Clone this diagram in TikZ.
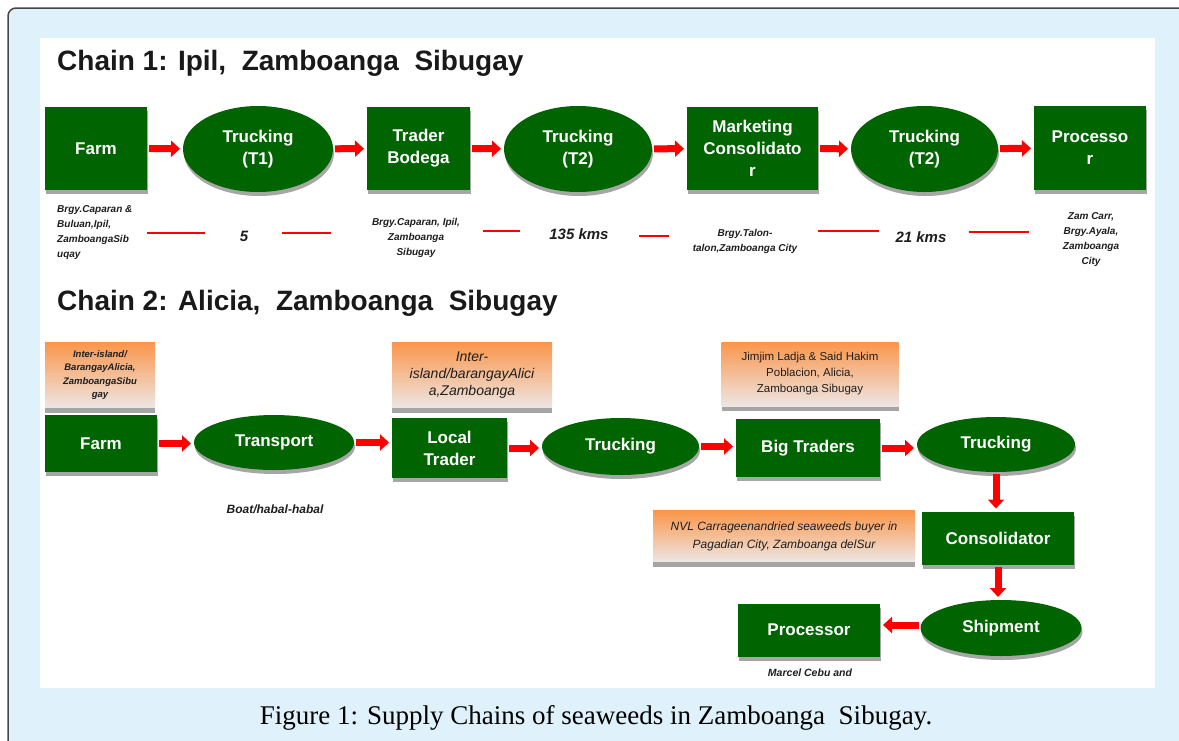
\documentclass[tikz,border=0pt]{standalone}
\usepackage{fontspec}
\setmainfont{Liberation Sans}
\newfontfamily\capfont{Liberation Serif}
\usetikzlibrary{arrows.meta, shapes.geometric, shadows, calc, positioning}

\definecolor{seagreen}{RGB}{0,100,0}
\definecolor{framebg}{RGB}{223,241,251}
\definecolor{frameline}{RGB}{70,70,70}
\definecolor{noteorange}{RGB}{250,150,75}
\definecolor{notelight}{RGB}{237,230,228}
\definecolor{noteshade}{RGB}{165,165,165}
\definecolor{flowred}{RGB}{255,0,0}
\definecolor{notetext}{RGB}{30,30,30}

\begin{document}
\begin{tikzpicture}[x=1pt, y=-1pt]
	\tikzset{%
		stagebox/.style={rectangle, fill=seagreen, text=white, font=\fontsize{17}{22}\selectfont\bfseries, align=center, inner sep=2pt, outer sep=0pt, drop shadow={shadow xshift=1pt, shadow yshift=-4pt, fill=black!35, opacity=1}},
		stageoval/.style={stagebox, ellipse},
		notebox/.style={rectangle, top color=noteorange, bottom color=notelight, text=notetext, align=center, inner sep=2pt, outer sep=0pt, general shadow={shadow yshift=-5pt, fill=noteshade}},
		flow/.style={draw=flowred, line width=7pt, -{Triangle[length=9pt, width=16pt]}, shorten <=2pt, shorten >=3pt},
		kmline/.style={draw=flowred, line width=2pt},
		place/.style={font=\fontsize{10}{15}\selectfont\bfseries\itshape, text=notetext, align=center, inner sep=0pt},
		kmtext/.style={font=\fontsize{15}{18}\selectfont\bfseries\itshape, text=notetext, inner sep=0pt},
		chaintitle/.style={font=\fontsize{28}{34}\selectfont\bfseries, text=black!90, anchor=west, inner sep=0pt}
	}
	% frame
	\useasboundingbox (0,0) rectangle (1179,740);
	\clip (0,0) rectangle (1179,740);
	\draw[frameline, fill=framebg, line width=1.5pt, rounded corners=8pt] (8,8) rectangle (1200,770);
	\fill[white] (40,38) rectangle (1155,688);

	% chain 1
	\node[chaintitle] (titleA) at (57,63) {Chain 1: Ipil, \ Zamboanga \ Sibugay};
	\node[stagebox, minimum width=102pt, minimum height=83pt] (farmA) at (96,148.5) {Farm};
	\node[stageoval, minimum width=150pt, minimum height=86pt] (truckA1) at (258,149) {Trucking\\(T1)};
	\node[stagebox, minimum width=103pt, minimum height=83pt] (traderA) at (418.5,148.5) {Trader\\Bodega};
	\node[stageoval, minimum width=148pt, minimum height=86pt] (truckA2) at (578,149) {Trucking\\(T2)};
	\node[stagebox, minimum width=131pt, minimum height=83pt] (consolA) at (752.5,148.5) {Marketing\\Consolidato\\r};
	\node[stageoval, minimum width=147pt, minimum height=86pt] (truckA3) at (924.5,149) {Trucking\\(T2)};
	\node[stagebox, minimum width=112pt, minimum height=84pt] (procA) at (1090,148) {Processo\\r};
	\draw[flow] (farmA) -- (truckA1);
	\draw[flow] (truckA1) -- (traderA);
	\draw[flow] (traderA) -- (truckA2);
	\draw[flow] (truckA2) -- (consolA);
	\draw[flow] (consolA) -- (truckA3);
	\draw[flow] (truckA3) -- (procA);

	\node[place, align=left, anchor=west] (siteA1) at (57,233) {Brgy.Caparan \&\\Buluan,Ipil,\\ZamboangaSib\\uqay};
	\node[kmtext] (kmA1) at (244,236) {5};
	\node[place] (siteA2) at (416,238) {Brgy.Caparan, Ipil,\\Zamboanga\\Sibugay};
	\node[kmtext] (kmA2) at (579,234) {135 kms};
	\node[place] (siteA3) at (745,241) {Brgy.Talon-\\talon,Zamboanga City};
	\node[kmtext] (kmA3) at (921,237) {21 kms};
	\node[place] (siteA4) at (1091,240) {Zam Carr,\\Brgy.Ayala,\\Zamboanga\\City};
	\draw[kmline] ($(siteA1.east)!.5!(kmA1.west)$) ++(-39,-2) -- ++(58,0);
	\draw[kmline] ($(kmA1.east)!.5!(siteA2.west)$) ++(-28,-4) -- ++(49,0);
	\draw[kmline] ($(siteA2.east)!.5!(kmA2.west)$) ++(-22,-5) -- ++(37,0);
	\draw[kmline] ($(kmA2.east)!.5!(siteA3.west)$) ++(-12,-2) -- ++(30,0);
	\draw[kmline] ($(siteA3.east)!.5!(kmA3.west)$) ++(-28,-8) -- ++(61,0);
	\draw[kmline] ($(kmA3.east)!.5!(siteA4.west)$) ++(-36,-7) -- ++(60,0);

	% chain 2
	\node[chaintitle] (titleB) at (57,303) {Chain 2: Alicia, \ Zamboanga \ Sibugay};
	\node[stagebox, minimum width=112pt, minimum height=57pt] (farmB) at (101,443.5) {Farm};
	\node[stageoval, minimum width=160pt, minimum height=55pt] (transB) at (274,442.5) {Transport};
	\node[stagebox, minimum width=115pt, minimum height=60pt] (localB) at (449.5,448) {Local\\Trader};
	\node[stageoval, minimum width=157pt, minimum height=57pt] (truckB1) at (620.5,446.5) {Trucking};
	\node[stagebox, minimum width=144pt, minimum height=58pt] (bigB) at (808,448) {Big Traders};
	\node[stageoval, minimum width=158pt, minimum height=55pt] (truckB2) at (996,444.5) {Trucking};
	\node[stagebox, minimum width=152pt, minimum height=53pt] (consolB) at (998,538) {Consolidator};
	\node[stageoval, minimum width=161pt, minimum height=56pt] (shipB) at (1001,628) {Shipment};
	\node[stagebox, minimum width=142pt, minimum height=53pt] (procB) at (809,630) {Processor};
	\draw[flow] (farmB.east) -- (farmB.east -| transB.west);
	\draw[flow] (transB.east) -- (transB.east -| localB.west);
	\draw[flow] (localB.east) -- (localB.east -| truckB1.west);
	\draw[flow] (truckB1.east) -- (truckB1.east -| bigB.west);
	\draw[flow] (bigB.east) -- (bigB.east -| truckB2.west);
	\draw[flow] (truckB2.south) -- (truckB2.south |- consolB.north);
	\draw[flow] (consolB.south) -- (consolB.south |- shipB.north);
	\draw[flow] ([yshift=3pt]shipB.west) -- ([yshift=3pt]shipB.west -| procB.east);

	\node[notebox, minimum width=110pt, minimum height=65pt, font=\fontsize{9.5}{13.5}\selectfont\bfseries\itshape] (noteB1) at (100,375) {Inter-island/\\BarangayAlicia,\\ZamboangaSibu\\gay};
	\node[notebox, minimum width=160pt, minimum height=65pt, font=\fontsize{14}{17}\selectfont\itshape] (noteB2) at (472,375) {Inter-\\island/barangayAlici\\a,Zamboanga};
	\node[notebox, minimum width=177pt, minimum height=64pt, font=\fontsize{11.5}{16}\selectfont] (noteB3) at (810,374) {Jimjim Ladja \& Said Hakim\\Poblacion, Alicia,\\Zamboanga Sibugay};
	\node[notebox, minimum width=262pt, minimum height=51pt, font=\fontsize{12}{18}\selectfont\itshape] (noteB4) at (784,536) {NVL Carrageenandried seaweeds buyer in\\Pagadian City, Zamboanga delSur};
	\node[place, font=\fontsize{12}{15}\selectfont\bfseries\itshape] (viaB) at (275,509) {Boat/habal-habal};
	\node[place, font=\fontsize{10.5}{13}\selectfont\bfseries\itshape] (siteB) at (810,673) {Marcel Cebu and};

	% caption
	\node[font=\capfont\fontsize{27}{30}\selectfont] (caption) at (596,718) {Figure 1: Supply Chains of seaweeds in Zamboanga \ Sibugay.};
\end{tikzpicture}
\end{document}
